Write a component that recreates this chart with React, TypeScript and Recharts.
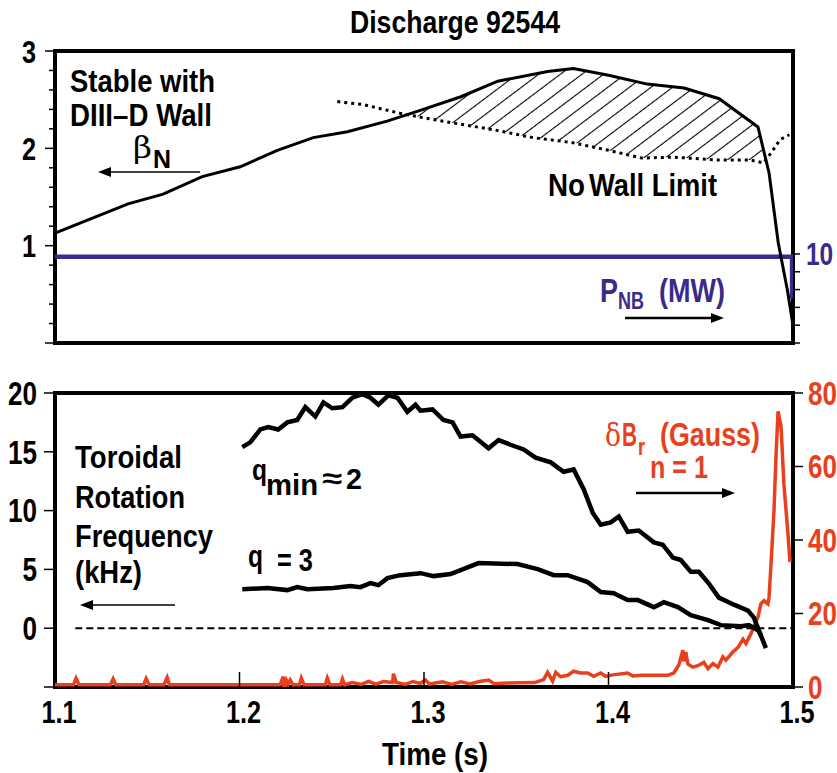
import { ComposedChart, Line, Area, XAxis, YAxis, ReferenceArea } from "recharts";

const FONT = "'Liberation Sans', Arial, sans-serif";
const SERIF = "'DejaVu Serif', serif";
const NARROW = 0.79;
const RED = "#E8401C";
const BLUE = "#3A2A8C";

// shared time axis (s)
const TIME_TICKS = [1.1, 1.2, 1.3, 1.4, 1.5];

// upper panel: beta_N (left) and beam power in MW (right)
const BETA_TICKS = [0, 0.2, 0.4, 0.6, 0.8, 1, 1.2, 1.4, 1.6, 1.8, 2, 2.2, 2.4, 2.6, 2.8, 3];
const PNB_TICKS = [0, 2, 4, 6, 8, 10];

const betaN = [
  { t: 1.1, v: 1.13 }, { t: 1.1396, v: 1.43 }, { t: 1.1586, v: 1.53 }, { t: 1.1798, v: 1.71 },
  { t: 1.2004, v: 1.81 }, { t: 1.2205, v: 1.98 }, { t: 1.24, v: 2.11 }, { t: 1.2585, v: 2.17 },
  { t: 1.28, v: 2.28 }, { t: 1.298, v: 2.39 }, { t: 1.32, v: 2.53 }, { t: 1.34, v: 2.69 },
  { t: 1.367, v: 2.79 }, { t: 1.381, v: 2.82 }, { t: 1.4, v: 2.75 }, { t: 1.421, v: 2.66 },
  { t: 1.441, v: 2.62 }, { t: 1.46, v: 2.51 }, { t: 1.481, v: 2.22 }, { t: 1.487, v: 1.75 },
  { t: 1.492, v: 1.03 }, { t: 1.497, v: 0.54 }, { t: 1.5, v: 0.18 },
];

const noWallLimit = [
  { t: 1.253, v: 2.48 }, { t: 1.267, v: 2.45 }, { t: 1.287, v: 2.36 }, { t: 1.298, v: 2.32 },
  { t: 1.316, v: 2.26 }, { t: 1.338, v: 2.19 }, { t: 1.359, v: 2.11 }, { t: 1.38, v: 2.06 },
  { t: 1.4, v: 1.98 }, { t: 1.418, v: 1.9 }, { t: 1.435, v: 1.91 }, { t: 1.459, v: 1.88 },
  { t: 1.477, v: 1.88 }, { t: 1.484, v: 1.85 }, { t: 1.488, v: 1.95 }, { t: 1.493, v: 2.09 },
  { t: 1.498, v: 2.14 },
];

// region where beta_N exceeds the no-wall limit
const wallStabilized = [
  { t: 1.296, lo: 2.33, hi: 2.36 }, { t: 1.316, lo: 2.26, hi: 2.5 }, { t: 1.338, lo: 2.19, hi: 2.67 },
  { t: 1.359, lo: 2.11, hi: 2.76 }, { t: 1.381, lo: 2.06, hi: 2.82 }, { t: 1.4, lo: 1.98, hi: 2.75 },
  { t: 1.418, lo: 1.9, hi: 2.67 }, { t: 1.435, lo: 1.91, hi: 2.63 }, { t: 1.459, lo: 1.88, hi: 2.52 },
  { t: 1.477, lo: 1.88, hi: 2.29 }, { t: 1.481, lo: 1.87, hi: 2.22 }, { t: 1.485, lo: 1.85, hi: 1.93 },
];

const pnb = [
  { t: 1.1, v: 9.7 }, { t: 1.4995, v: 9.7 }, { t: 1.4995, v: 5.0 },
];

// lower panel: rotation in kHz (left) and delta B_r in Gauss (right)
const ROT_TICKS = [-5, 0, 5, 10, 15, 20];
const BR_TICKS = [0, 20, 40, 60, 80];

const rotQmin = [
  { t: 1.2015, v: 15.4 }, { t: 1.2058, v: 15.8 }, { t: 1.2113, v: 16.9 }, { t: 1.2156, v: 17.1 },
  { t: 1.221, v: 16.9 }, { t: 1.2259, v: 17.5 }, { t: 1.2313, v: 17.7 }, { t: 1.2357, v: 18.8 },
  { t: 1.2411, v: 18.0 }, { t: 1.2455, v: 19.2 }, { t: 1.2503, v: 18.7 }, { t: 1.2558, v: 18.8 },
  { t: 1.2612, v: 19.6 }, { t: 1.2666, v: 19.9 }, { t: 1.271, v: 19.6 }, { t: 1.2753, v: 19.0 },
  { t: 1.2807, v: 19.8 }, { t: 1.2856, v: 19.6 }, { t: 1.291, v: 18.4 }, { t: 1.2954, v: 19.0 },
  { t: 1.2981, v: 18.5 }, { t: 1.3046, v: 18.6 }, { t: 1.3106, v: 17.7 }, { t: 1.3155, v: 17.5 },
  { t: 1.3198, v: 16.3 }, { t: 1.3263, v: 16.4 }, { t: 1.335, v: 15.3 }, { t: 1.3404, v: 16.0 },
  { t: 1.3469, v: 15.6 }, { t: 1.354, v: 15.2 }, { t: 1.3605, v: 14.5 }, { t: 1.3687, v: 14.1 },
  { t: 1.3757, v: 13.3 }, { t: 1.3811, v: 13.5 }, { t: 1.3866, v: 11.8 }, { t: 1.3915, v: 9.8 },
  { t: 1.3958, v: 8.8 }, { t: 1.4012, v: 9.0 }, { t: 1.4056, v: 9.5 }, { t: 1.4104, v: 8.2 },
  { t: 1.4164, v: 8.3 }, { t: 1.4246, v: 7.3 }, { t: 1.4294, v: 7.1 }, { t: 1.4349, v: 6.0 },
  { t: 1.4392, v: 5.8 }, { t: 1.4446, v: 4.8 }, { t: 1.449, v: 4.8 }, { t: 1.4544, v: 3.8 },
  { t: 1.4598, v: 2.6 }, { t: 1.468, v: 2.0 }, { t: 1.4756, v: 1.5 }, { t: 1.4788, v: 0.9 },
  { t: 1.4853, v: -1.7 },
];

const rotQ3 = [
  { t: 1.2015, v: 3.32 }, { t: 1.2151, v: 3.41 }, { t: 1.2259, v: 3.24 }, { t: 1.2313, v: 3.49 },
  { t: 1.2368, v: 3.32 }, { t: 1.2509, v: 3.41 }, { t: 1.2601, v: 3.58 }, { t: 1.2655, v: 3.49 },
  { t: 1.271, v: 3.83 }, { t: 1.2753, v: 3.66 }, { t: 1.2802, v: 4.26 }, { t: 1.2872, v: 4.51 },
  { t: 1.2981, v: 4.68 }, { t: 1.3052, v: 4.43 }, { t: 1.3144, v: 4.6 }, { t: 1.3296, v: 5.54 },
  { t: 1.3507, v: 5.45 }, { t: 1.3616, v: 5.03 }, { t: 1.3703, v: 4.51 }, { t: 1.3779, v: 4.51 },
  { t: 1.3887, v: 3.92 }, { t: 1.3958, v: 3.07 }, { t: 1.4028, v: 2.98 }, { t: 1.4104, v: 2.39 },
  { t: 1.4159, v: 2.39 }, { t: 1.4246, v: 1.79 }, { t: 1.43, v: 2.21 }, { t: 1.4376, v: 1.79 },
  { t: 1.4446, v: 1.11 }, { t: 1.4539, v: 0.68 }, { t: 1.4609, v: 0.26 }, { t: 1.4718, v: 0.17 },
  { t: 1.4761, v: 0.26 }, { t: 1.481, v: -0.17 }, { t: 1.4826, v: -0.6 },
];

const zeroLine = [{ t: 1.111, v: 0 }, { t: 1.5, v: 0 }];

const deltaBr = [
  { t: 1.1, v: 0.6 }, { t: 1.11, v: 0.6 }, { t: 1.1114, v: 2.4 }, { t: 1.113, v: 0.6 },
  { t: 1.13, v: 0.6 }, { t: 1.1315, v: 2.2 }, { t: 1.133, v: 0.6 }, { t: 1.148, v: 0.6 },
  { t: 1.1494, v: 2.3 }, { t: 1.151, v: 0.6 }, { t: 1.159, v: 0.6 }, { t: 1.1608, v: 2.6 },
  { t: 1.162, v: 0.6 }, { t: 1.222, v: 0.6 }, { t: 1.2237, v: 2.8 }, { t: 1.2245, v: -1.2 },
  { t: 1.2255, v: 1.8 }, { t: 1.2265, v: 0.9 }, { t: 1.2275, v: 1.9 }, { t: 1.229, v: 0.6 },
  { t: 1.2325, v: 0.6 }, { t: 1.2335, v: 2.4 }, { t: 1.235, v: 0.6 }, { t: 1.2465, v: 0.6 },
  { t: 1.2476, v: 2.4 }, { t: 1.249, v: 0.6 }, { t: 1.2548, v: 0.6 }, { t: 1.2558, v: 2.2 },
  { t: 1.257, v: 0.6 }, { t: 1.2612, v: 1.2 }, { t: 1.266, v: 0.7 }, { t: 1.27, v: 1.5 },
  { t: 1.274, v: 0.8 }, { t: 1.278, v: 1.5 }, { t: 1.283, v: 1.2 }, { t: 1.2834, v: 3.6 },
  { t: 1.285, v: 1.2 }, { t: 1.29, v: 0.7 }, { t: 1.294, v: 1.5 }, { t: 1.298, v: 1.0 },
  { t: 1.3008, v: 1.9 }, { t: 1.303, v: 0.8 }, { t: 1.31, v: 1.4 }, { t: 1.315, v: 0.7 },
  { t: 1.32, v: 1.4 }, { t: 1.325, v: 0.8 }, { t: 1.33, v: 1.5 }, { t: 1.335, v: 1.9 },
  { t: 1.338, v: 0.9 }, { t: 1.345, v: 1.1 }, { t: 1.36, v: 1.2 }, { t: 1.3648, v: 2.0 },
  { t: 1.367, v: 4.0 }, { t: 1.3697, v: 1.6 }, { t: 1.3714, v: 4.0 }, { t: 1.374, v: 2.8 },
  { t: 1.3779, v: 3.2 }, { t: 1.3811, v: 4.3 }, { t: 1.3849, v: 3.8 }, { t: 1.3887, v: 3.8 },
  { t: 1.392, v: 2.9 }, { t: 1.3958, v: 3.8 }, { t: 1.3985, v: 2.9 }, { t: 1.4023, v: 3.3 },
  { t: 1.4104, v: 3.8 }, { t: 1.4132, v: 3.0 }, { t: 1.4175, v: 3.2 }, { t: 1.4322, v: 3.2 },
  { t: 1.4354, v: 3.8 }, { t: 1.4381, v: 6.0 }, { t: 1.4403, v: 10.0 }, { t: 1.4408, v: 7.0 },
  { t: 1.4419, v: 9.5 }, { t: 1.443, v: 6.3 }, { t: 1.4457, v: 5.4 }, { t: 1.4484, v: 5.8 },
  { t: 1.4517, v: 6.7 }, { t: 1.4539, v: 5.0 }, { t: 1.4566, v: 6.4 }, { t: 1.4593, v: 5.4 },
  { t: 1.462, v: 8.2 }, { t: 1.4636, v: 7.3 }, { t: 1.4674, v: 9.5 }, { t: 1.4702, v: 10.8 },
  { t: 1.4729, v: 13.0 }, { t: 1.4745, v: 11.8 }, { t: 1.4772, v: 14.5 }, { t: 1.481, v: 19.0 },
  { t: 1.4826, v: 22.6 }, { t: 1.4843, v: 23.5 }, { t: 1.4864, v: 22.6 }, { t: 1.487, v: 24.3 },
  { t: 1.4881, v: 33.6 }, { t: 1.4897, v: 48 }, { t: 1.4908, v: 63 }, { t: 1.4919, v: 75 },
  { t: 1.4935, v: 71 }, { t: 1.4951, v: 55 }, { t: 1.4973, v: 41.5 }, { t: 1.4984, v: 34 },
];

const isMultiple = (v: number, step: number) => Math.abs(v / step - Math.round(v / step)) < 1e-6;

// condensed bold text, drawn by squeezing a regular bold face horizontally
function Narrow({ x, y, size, anchor = "start", fill = "#000", children }: any) {
  return (
    <text
      transform={`translate(${x},${y}) scale(${NARROW},1)`}
      textAnchor={anchor}
      fontFamily={FONT}
      fontWeight="bold"
      fontSize={size}
      fill={fill}
    >
      {children}
    </text>
  );
}

// bold label stretched or squeezed to a set width
function Label({ x, y, size, w, fill = "#000", anchor = "start", family = FONT, weight = "bold", children }: any) {
  return (
    <text
      x={x}
      y={y}
      fontFamily={family}
      fontWeight={weight}
      fontSize={size}
      fill={fill}
      textAnchor={anchor}
      textLength={w}
      lengthAdjust="spacingAndGlyphs"
    >
      {children}
    </text>
  );
}

// y tick: outward tick mark (long for majors) plus an optional label
function yTick(
  side: "left" | "right",
  majorStep: number,
  lens: [number, number],
  showLabel: (v: number) => boolean,
  color: string,
  fontSize: number,
  gap: number
) {
  return (props: any) => {
    const { x, y, payload } = props;
    const v = payload.value as number;
    const len = isMultiple(v, majorStep) ? lens[0] : lens[1];
    const dir = side === "left" ? -1 : 1;
    return (
      <g>
        <line x1={x} y1={y} x2={x + dir * len} y2={y} stroke="#000" strokeWidth={1.5} />
        {showLabel(v) && (
          <Narrow x={x + dir * gap} y={y + fontSize * 0.36} size={fontSize} anchor={side === "left" ? "end" : "start"} fill={color}>
            {v}
          </Narrow>
        )}
      </g>
    );
  };
}

// time tick: short inward mark at interior ticks, label below when asked
function timeTick(showLabel: boolean, innerLen: number) {
  return (props: any) => {
    const { x, y, payload } = props;
    const v = payload.value as number;
    const inner = v > 1.15 && v < 1.45;
    return (
      <g>
        {inner && <line x1={x} y1={y} x2={x} y2={y - innerLen} stroke="#000" strokeWidth={1.5} />}
        {showLabel && (
          <Narrow x={x + 4} y={y + 36} size={32} anchor="middle">
            {v.toFixed(1)}
          </Narrow>
        )}
      </g>
    );
  };
}

function Arrow({ x1, x2, y, w = 1.5 }: { x1: number; x2: number; y: number; w?: number }) {
  const dir = x2 > x1 ? 1 : -1;
  const head = 13;
  return (
    <g>
      <line x1={x1} y1={y} x2={x2 - dir * head} y2={y} stroke="#000" strokeWidth={w} />
      <polygon points={`${x2},${y} ${x2 - dir * head},${y - 5} ${x2 - dir * head},${y + 5}`} fill="#000" />
    </g>
  );
}

function TopPanel() {
  return (
    <ComposedChart width={837} height={360} margin={{ top: 51, right: 0, bottom: 17, left: 0 }}>
      <defs>
        <pattern id="hatch" patternUnits="userSpaceOnUse" width={13} height={13} patternTransform="rotate(-37)">
          <line x1={0} y1={6.5} x2={13} y2={6.5} stroke="#000" strokeWidth={1.1} />
        </pattern>
      </defs>
      <XAxis
        type="number"
        dataKey="t"
        domain={[1.1, 1.5]}
        ticks={TIME_TICKS}
        height={0}
        axisLine={false}
        tickLine={false}
        tickSize={0}
        tickMargin={0}
        interval={0}
        tick={timeTick(false, 13)}
        allowDataOverflow
      />
      <YAxis
        yAxisId="beta"
        orientation="left"
        width={55}
        domain={[0, 3]}
        ticks={BETA_TICKS}
        axisLine={false}
        tickLine={false}
        tickSize={0}
        tickMargin={0}
        interval={0}
        tick={yTick("left", 1, [10, 6], (v) => v > 0 && isMultiple(v, 1), "#000", 32, 19)}
        allowDataOverflow
      />
      <YAxis
        yAxisId="pnb"
        orientation="right"
        width={44}
        domain={[0, 32.8]}
        ticks={PNB_TICKS}
        axisLine={false}
        tickLine={false}
        tickSize={0}
        tickMargin={0}
        interval={0}
        tick={yTick("right", 2, [7, 7], (v) => v === 10, BLUE, 31, 13)}
        allowDataOverflow
      />
      <Area
        yAxisId="beta"
        data={wallStabilized}
        dataKey={(d: any) => [d.lo, d.hi]}
        type="linear"
        stroke="none"
        fill="url(#hatch)"
        fillOpacity={1}
        isAnimationActive={false}
      />
      <Line yAxisId="pnb" data={pnb} dataKey="v" type="linear" stroke={BLUE} strokeWidth={4.5} dot={false} isAnimationActive={false} />
      <Line
        yAxisId="beta"
        data={noWallLimit}
        dataKey="v"
        type="linear"
        stroke="#000"
        strokeWidth={3}
        strokeDasharray="3 4"
        dot={false}
        isAnimationActive={false}
      />
      <Line yAxisId="beta" data={betaN} dataKey="v" type="linear" stroke="#000" strokeWidth={3} dot={false} isAnimationActive={false} />
      <ReferenceArea yAxisId="beta" x1={1.1} x2={1.5} y1={0} y2={3} fill="none" stroke="#000" strokeWidth={4} />
    </ComposedChart>
  );
}

function BottomPanel() {
  return (
    <ComposedChart width={837} height={413} margin={{ top: 33, right: 0, bottom: 0, left: 0 }}>
      <XAxis
        type="number"
        dataKey="t"
        domain={[1.1, 1.5]}
        ticks={TIME_TICKS}
        height={86}
        axisLine={false}
        tickLine={false}
        tickSize={0}
        tickMargin={0}
        interval={0}
        tick={timeTick(true, 15)}
        allowDataOverflow
      />
      <YAxis
        yAxisId="rot"
        orientation="left"
        width={55}
        domain={[-5, 20]}
        ticks={ROT_TICKS}
        axisLine={false}
        tickLine={false}
        tickSize={0}
        tickMargin={0}
        interval={0}
        tick={yTick("left", 5, [11, 11], (v) => v >= 0, "#000", 33, 18)}
        allowDataOverflow
      />
      <YAxis
        yAxisId="br"
        orientation="right"
        width={44}
        domain={[0, 80]}
        ticks={BR_TICKS}
        axisLine={false}
        tickLine={false}
        tickSize={0}
        tickMargin={0}
        interval={0}
        tick={yTick("right", 20, [10, 10], () => true, RED, 33, 15)}
        allowDataOverflow
      />
      <Line yAxisId="br" data={deltaBr} dataKey="v" type="linear" stroke={RED} strokeWidth={3.5} dot={false} isAnimationActive={false} />
      <Line
        yAxisId="rot"
        data={zeroLine}
        dataKey="v"
        type="linear"
        stroke="#000"
        strokeWidth={2}
        strokeDasharray="7 4"
        dot={false}
        isAnimationActive={false}
      />
      <Line yAxisId="rot" data={rotQ3} dataKey="v" type="linear" stroke="#000" strokeWidth={4.5} dot={false} isAnimationActive={false} />
      <Line yAxisId="rot" data={rotQmin} dataKey="v" type="linear" stroke="#000" strokeWidth={4.5} dot={false} isAnimationActive={false} />
      <ReferenceArea yAxisId="rot" x1={1.1} x2={1.5} y1={-5} y2={20} fill="none" stroke="#000" strokeWidth={4} />
    </ComposedChart>
  );
}

function Annotations() {
  return (
    <svg width={837} height={773} style={{ position: "absolute", left: 0, top: 0, pointerEvents: "none" }}>
      <Label x={350} y={33} size={31} w={210}>Discharge 92544</Label>

      <Label x={70} y={92} size={31} w={145}>Stable with</Label>
      <Label x={70} y={126} size={31} w={142}>DIII–D Wall</Label>
      <Label x={133} y={158} size={29} w={19} family={SERIF} weight="normal">β</Label>
      <Label x={153} y={168} size={26} w={18}>N</Label>
      <Arrow x1={200} x2={98} y={172} />

      <Label x={548} y={196} size={31} w={37}>No</Label>
      <Label x={589} y={196} size={31} w={128}>Wall Limit</Label>

      <Label x={600} y={302} size={33} w={18} fill={BLUE}>P</Label>
      <Label x={618} y={309} size={23} w={26} fill={BLUE}>NB</Label>
      <Label x={659} y={302} size={33} w={66} fill={BLUE}>(MW)</Label>
      <Arrow x1={625} x2={724} y={318} w={2.5} />

      <Label x={75} y={468} size={31} w={107}>Toroidal</Label>
      <Label x={75} y={508} size={31} w={110}>Rotation</Label>
      <Label x={75} y={547} size={31} w={138}>Frequency</Label>
      <Label x={75} y={583} size={31} w={67}>(kHz)</Label>
      <Arrow x1={175} x2={80} y={605} />

      <Label x={252} y={480} size={29} w={15}>q</Label>
      <Label x={266} y={495} size={29} w={52}>min</Label>
      <Label x={322} y={488} size={28} w={20}>≈</Label>
      <Label x={346} y={489} size={29} w={16}>2</Label>
      <Label x={248} y={567} size={32} w={15}>q</Label>
      <Label x={277} y={571} size={31} w={36}>= 3</Label>

      <Label x={605} y={446} size={32} w={16} family={SERIF} weight="normal" fill={RED}>δ</Label>
      <Label x={622} y={446} size={33} w={15} fill={RED}>B</Label>
      <Label x={638} y={455} size={24} w={7} fill={RED}>r</Label>
      <Label x={660} y={446} size={33} w={100} fill={RED}>(Gauss)</Label>
      <Label x={650} y={478} size={31} w={58} fill={RED}>n = 1</Label>
      <Arrow x1={636} x2={735} y={493} w={2.5} />

      <Label x={382} y={765} size={31} w={106}>Time (s)</Label>
    </svg>
  );
}

export default function App() {
  return (
    <div style={{ position: "absolute", left: 0, top: 0, width: 837, height: 773, background: "#fff" }}>
      <div style={{ position: "absolute", left: 0, top: 0 }}>
        <TopPanel />
      </div>
      <div style={{ position: "absolute", left: 0, top: 360 }}>
        <BottomPanel />
      </div>
      <Annotations />
    </div>
  );
}
